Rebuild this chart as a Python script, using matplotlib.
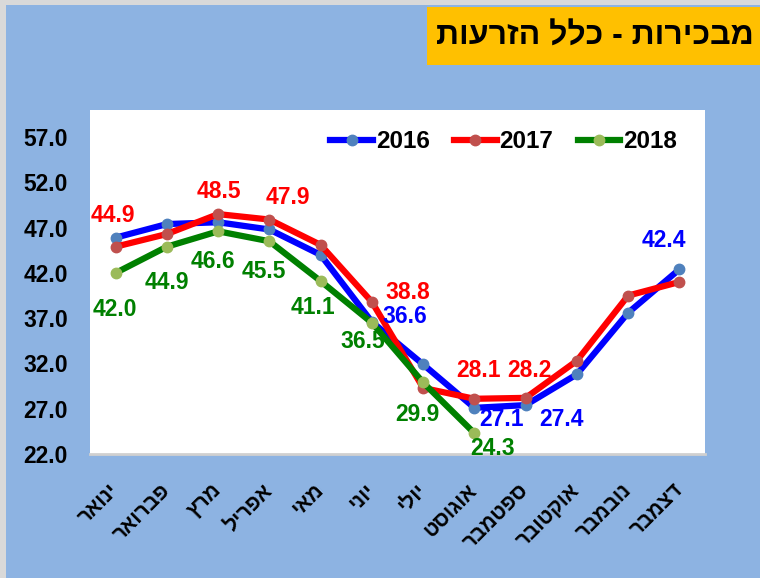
import matplotlib
matplotlib.use("Agg")
import matplotlib.pyplot as plt
from matplotlib.patches import Rectangle

months = ["ינואר", "פברואר", "מרץ", "אפריל", "מאי", "יוני", "יולי",
          "אוגוסט", "ספטמבר", "אוקטובר", "נובמבר", "דצמבר"]
v2016 = [45.9, 47.4, 47.6, 46.8, 44.0, 36.6, 31.9, 27.1, 27.4, 30.8, 37.6, 42.4]
v2017 = [44.9, 46.3, 48.5, 47.9, 45.1, 38.8, 29.3, 28.1, 28.2, 32.3, 39.5, 41.0]
v2018 = [42.0, 44.9, 46.6, 45.5, 41.1, 36.5, 29.9, 24.3]
yticks = [22.0, 27.0, 32.0, 37.0, 42.0, 47.0, 52.0, 57.0]
title = "מבכירות - כלל הזרעות"

FONT = ["Liberation Sans Narrow", "Liberation Sans", "DejaVu Sans"]
HEB = ["Liberation Sans", "DejaVu Sans"]
plt.rcParams["font.family"] = FONT

def vis(s):
    return s[::-1]

fig = plt.figure(figsize=(7.6, 5.78), dpi=100)
fig.patch.set_facecolor("#D9D9D9")
W, H = 760, 578
fig.patches.append(Rectangle((6 / W, 0), 1, 1 - 5 / H, transform=fig.transFigure,
                             facecolor="#8DB3E2", edgecolor="none", zorder=-10))
# title box
fig.patches.append(Rectangle((427 / W, 1 - 65 / H), (760 - 427) / W, 58 / H,
                             transform=fig.transFigure, facecolor="#FFC000",
                             edgecolor="none", zorder=-9))
fig.text(595 / W, 1 - 37 / H, vis(title), ha="center", va="center",
         fontsize=23, fontweight="bold", color="black", family=HEB, zorder=2)

ax = fig.add_axes([90 / W, 1 - 454 / H, (705 - 90) / W, (454 - 110) / H])
ax.set_zorder(5)
ax.set_facecolor("white")
x = list(range(len(months)))
lw = 4.5
ms = 7.5
ax.plot(x, v2016, color="#0000FF", lw=lw, marker="o", ms=ms, mfc="#4F81BD",
        mec="#4F81BD", label="2016", zorder=3)
ax.plot(x, v2017, color="#FF0000", lw=lw, marker="o", ms=ms, mfc="#C0504D",
        mec="#C0504D", label="2017", zorder=4)
ax.plot(x[:len(v2018)], v2018, color="#008000", lw=lw, marker="o", ms=ms,
        mfc="#9BBB59", mec="#9BBB59", label="2018", zorder=5)

ax.set_xlim(-0.5, len(months) - 0.5)
ax.set_ylim(22, 60)
ax.set_yticks(yticks)
ax.set_yticklabels([f"{t:.1f}" for t in yticks], fontsize=16.5, fontweight="bold")
ax.set_xticks(x)
ax.set_xticklabels([vis(m) for m in months], rotation=45, ha="right",
                   va="center", rotation_mode="anchor", fontsize=15,
                   fontweight="bold", family=HEB)
ax.tick_params(axis="both", length=0)
ax.tick_params(axis="x", pad=24)
ax.tick_params(axis="y", pad=16)
for s in ["top", "left", "right"]:
    ax.spines[s].set_visible(False)
ax.spines["bottom"].set_color("#D0D0D0")
ax.spines["bottom"].set_linewidth(2)

def lab(series, i, dx, dy, color):
    ax.annotate(f"{series[i]:.1f}", (i, series[i]), xytext=(dx, dy),
                textcoords="offset pixels", ha="center", va="center",
                fontsize=16.5, fontweight="bold", color=color, zorder=6)

red, blue, green = "#FF0000", "#0000FF", "#008000"
# 2017 labels
lab(v2017, 0, -3, 31, red)
lab(v2017, 2, 1, 23, red)
lab(v2017, 3, 18, 22, red)
lab(v2017, 5, 36, 9, red)
lab(v2017, 7, 4, 28, red)
lab(v2017, 8, 4, 27, red)
# 2016 labels
lab(v2016, 5, 33, 5, blue)
lab(v2016, 7, 27, -12, blue)
lab(v2016, 8, 36, -14, blue)
lab(v2016, 11, -15, 29, blue)
# 2018 labels
lab(v2018, 0, -1, -37, green)
lab(v2018, 1, 0, -36, green)
lab(v2018, 2, -5, -30, green)
lab(v2018, 3, -6, -30, green)
lab(v2018, 4, -8, -26, green)
lab(v2018, 5, -9, -19, green)
lab(v2018, 6, -6, -32, green)
lab(v2018, 7, 18, -15, green)

leg = ax.legend(loc="upper right", bbox_to_anchor=(0.99, 1.005), ncol=3,
                frameon=False, handlelength=1.75, handletextpad=0.12,
                columnspacing=1.0, prop={"family": FONT, "weight": "bold", "size": 17.5})

fig.savefig("out.png", dpi=100, facecolor=fig.get_facecolor())
